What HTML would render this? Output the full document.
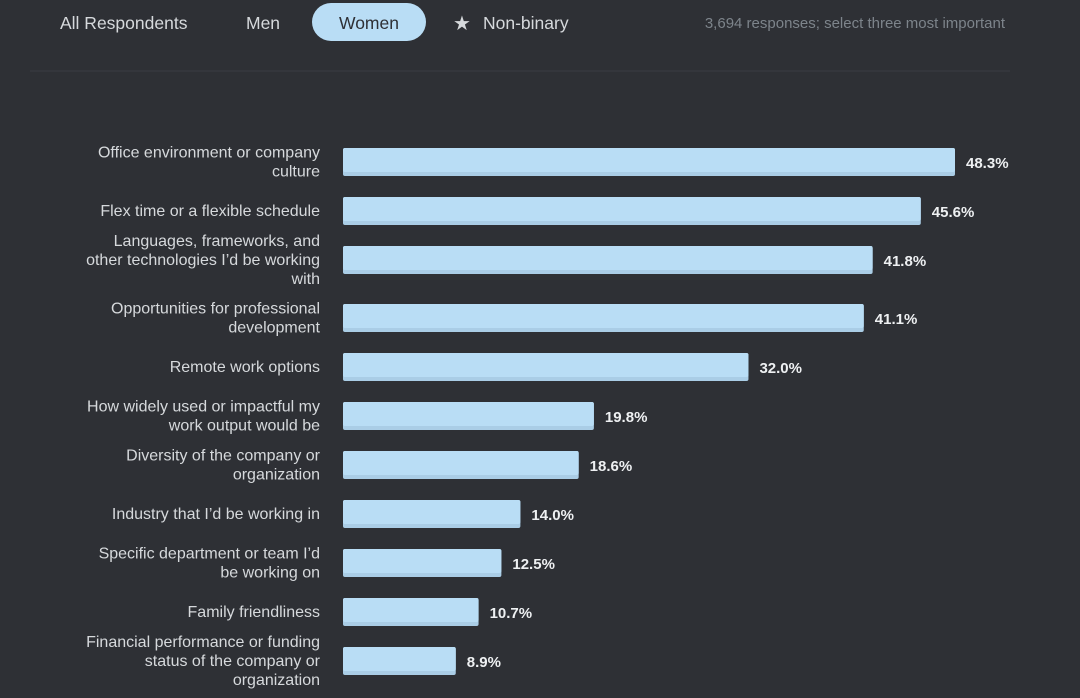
<!DOCTYPE html>
<html><head><meta charset="utf-8"><style>
body{margin:0;background:#2e3035;width:1080px;height:698px;overflow:hidden;font-family:"Liberation Sans",sans-serif;}
svg{display:block}
</style></head><body>
<svg id="c" width="1080" height="698">
<g>
<text x="60" y="29" fill="#d6d9dc" font-size="17.5">All Respondents</text>
<text x="246" y="29" fill="#d6d9dc" font-size="17.5">Men</text>
<rect x="312" y="3" width="114" height="38" rx="19" fill="#b9ddf5"/>
<text x="369" y="29" fill="#2e3035" font-size="17.5" text-anchor="middle">Women</text>
<text x="453" y="30" fill="#d6d9dc" font-size="20">★</text>
<text x="483" y="29" fill="#d6d9dc" font-size="17.5">Non-binary</text>
<text x="1005" y="28" fill="#7d848b" font-size="15" text-anchor="end">3,694 responses; select three most important</text>
</g>
<line x1="30" y1="71" x2="1010" y2="71" stroke="#3a3d42" stroke-width="1"/>
<g id="bars"></g>
</svg>
<script>
const labels=[["Office environment or company","culture"],["Flex time or a flexible schedule"],["Languages, frameworks, and","other technologies I’d be working","with"],["Opportunities for professional","development"],["Remote work options"],["How widely used or impactful my","work output would be"],["Diversity of the company or","organization"],["Industry that I’d be working in"],["Specific department or team I’d","be working on"],["Family friendliness"],["Financial performance or funding","status of the company or","organization"]];
const values=[48.3,45.6,41.8,41.1,32.0,19.8,18.6,14.0,12.5,10.7,8.9];
const x0=343,scale=612/48.3;
const xs=v=>x0+v*scale;
const ys=i=>162+i*49+(i>=3?9:0);
const ns="http://www.w3.org/2000/svg";
const g=document.getElementById('bars');
function mk(t,a){const e=document.createElementNS(ns,t);for(const k in a)e.setAttribute(k,a[k]);g.appendChild(e);return e;}
values.forEach((v,i)=>{
const y=ys(i),w=xs(v)-x0;
const r=mk('rect',{x:x0,y:y-14,width:w,height:28,rx:2,fill:'#aacde6'});


const r2=mk('rect',{x:x0,y:y-14,width:w,height:24,rx:2,fill:'#b9ddf5'});


const t=mk('text',{x:xs(v)+11,y:y+6,fill:'#eef0f2','font-size':15,'font-weight':'bold'});
t.textContent=v.toFixed(1)+'%';


const L=labels[i],n=L.length;
L.forEach((s,j)=>{
const tl=mk('text',{x:320,y:y+5+(j-(n-1)/2)*19,fill:'#d6d9dc','font-size':16,'text-anchor':'end'});
tl.textContent=s;


});
});
</script>
</body></html>
